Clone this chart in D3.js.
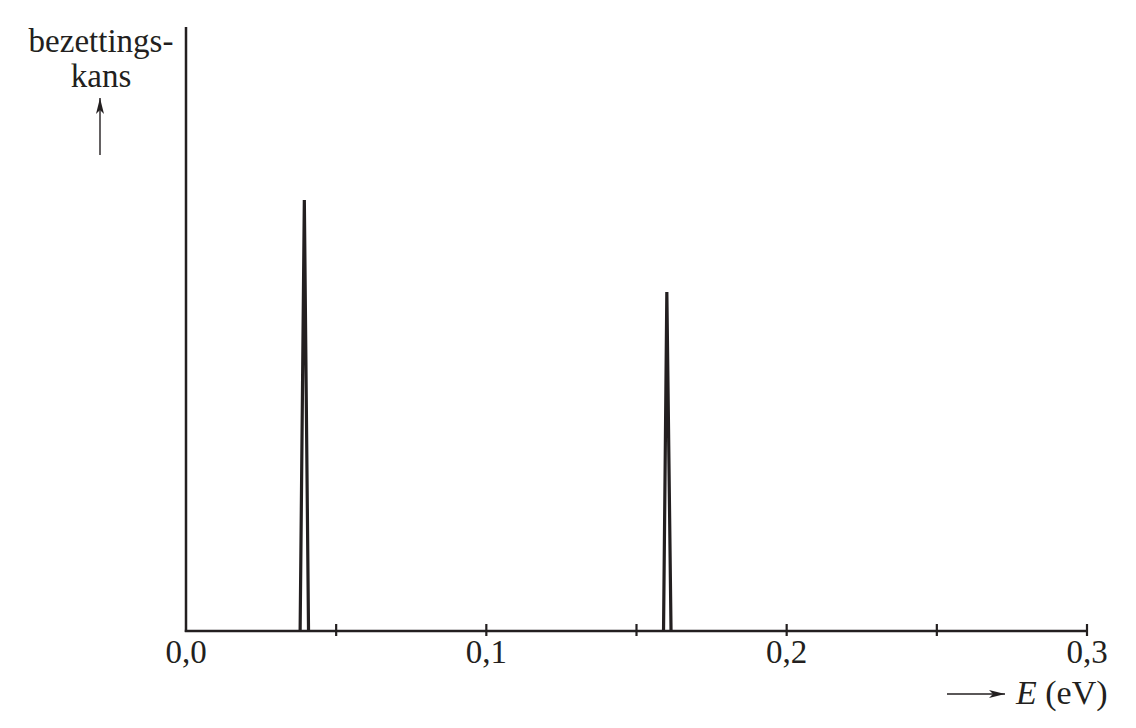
<!DOCTYPE html>
<html>
<head>
<meta charset="utf-8">
<script src="https://cdn.jsdelivr.net/npm/d3@7/dist/d3.min.js"></script>
<style>
  html, body { margin: 0; padding: 0; background: #fff; }
  svg { display: block; }
  text { font-family: "Liberation Serif", "Times New Roman", serif; fill: #231f20; }
</style>
</head>
<body>
<svg id="chart" width="1136" height="728"></svg>
<script>
// ---- data ----
const tickValues = [0.05, 0.1, 0.15, 0.2, 0.25, 0.3];
const tickLabelValues = [0, 0.1, 0.2, 0.3];
const tickLabels = ["0,0", "0,1", "0,2", "0,3"];
// each peak: energy (eV) of left foot, top, right foot; relative height
const peakLeft = [0.0380, 0.1590];
const peakCenter = [0.0394, 0.1601];
const peakRight = [0.0408, 0.1615];
const peakHeight = [0.717, 0.564];
const yLabelLines = ["bezettings-", "kans"];
const xLabelItalic = "E";
const xLabelUnit = " (eV)";

// ---- drawing ----
const ink = "#231f20";
const svg = d3.select("#chart");
const x = d3.scaleLinear().domain([0, 0.3]).range([186, 1087]);
const y = d3.scaleLinear().domain([0, 1]).range([631, 30]);

// peaks
const line = d3.line().x(d => x(d[0])).y(d => y(d[1]));
peakCenter.forEach((c, i) => {
  const pts = [[peakLeft[i], 0], [c, peakHeight[i]], [peakRight[i], 0]];
  svg.append("path")
    .attr("d", line(pts))
    .attr("fill", "none")
    .attr("stroke", ink)
    .attr("stroke-width", 3.2)
    .attr("stroke-linejoin", "miter")
    .attr("stroke-miterlimit", 40);
});

// y axis line
svg.append("line")
  .attr("x1", x(0)).attr("x2", x(0))
  .attr("y1", y(0) + 1).attr("y2", 27)
  .attr("stroke", ink).attr("stroke-width", 2.5);

// x axis line
svg.append("line")
  .attr("x1", x(0) - 1.2).attr("x2", x(0.3))
  .attr("y1", y(0)).attr("y2", y(0))
  .attr("stroke", ink).attr("stroke-width", 2.5);

// ticks
svg.selectAll("line.tick").data(tickValues).enter().append("line")
  .attr("class", "tick")
  .attr("x1", d => x(d)).attr("x2", d => x(d))
  .attr("y1", y(0) - 7).attr("y2", y(0) + 5)
  .attr("stroke", ink).attr("stroke-width", 2.2);

// tick labels
svg.selectAll("text.tl").data(tickLabelValues).enter().append("text")
  .attr("class", "tl")
  .attr("x", d => x(d))
  .attr("y", 663)
  .attr("text-anchor", "middle")
  .attr("font-size", 33)
  .text((d, i) => tickLabels[i]);

// y label
svg.selectAll("text.yl").data(yLabelLines).enter().append("text")
  .attr("class", "yl")
  .attr("x", 101)
  .attr("y", (d, i) => 52 + i * 35)
  .attr("text-anchor", "middle")
  .attr("font-size", 33)
  .text(d => d);

// arrow marker
const defs = svg.append("defs");
defs.append("marker")
  .attr("id", "ah")
  .attr("viewBox", "0 0 16 8")
  .attr("refX", 16).attr("refY", 4)
  .attr("markerWidth", 16).attr("markerHeight", 8)
  .attr("markerUnits", "userSpaceOnUse")
  .attr("orient", "auto")
  .append("path")
  .attr("d", "M0,0 L16,4 L0,8 L4,4 Z")
  .attr("fill", ink);

// y arrow
svg.append("line")
  .attr("x1", 100).attr("x2", 100)
  .attr("y1", 155).attr("y2", 98)
  .attr("stroke", ink).attr("stroke-width", 1.4)
  .attr("marker-end", "url(#ah)");

// x arrow
svg.append("line")
  .attr("x1", 947).attr("x2", 1005)
  .attr("y1", 694).attr("y2", 694)
  .attr("stroke", ink).attr("stroke-width", 1.4)
  .attr("marker-end", "url(#ah)");

// x label
const xl = svg.append("text")
  .attr("x", 1016).attr("y", 704)
  .attr("font-size", 34);
xl.append("tspan").attr("font-style", "italic").text(xLabelItalic);
xl.append("tspan").text(xLabelUnit);
</script>
</body>
</html>
